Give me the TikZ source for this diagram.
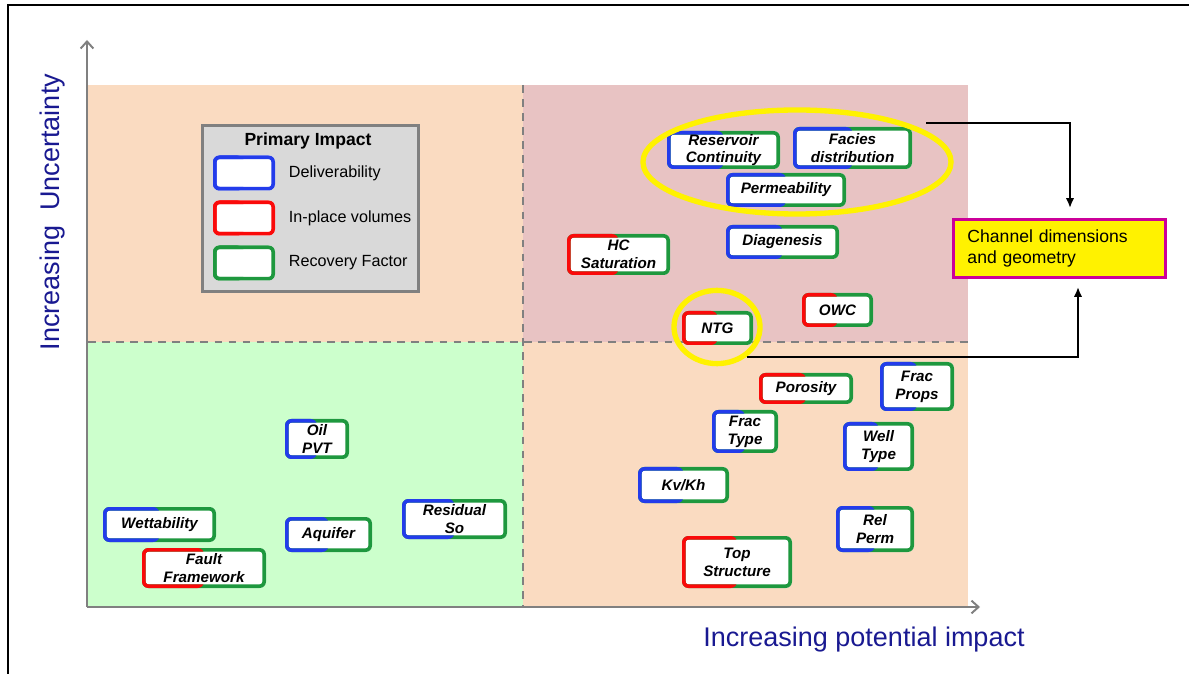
\documentclass[tikz,border=0pt]{standalone}
\usepackage{fontspec}
\setmainfont{Liberation Sans}
\usetikzlibrary{arrows.meta,shapes.geometric}
\definecolor{cblue}{RGB}{35,60,235}
\definecolor{cred}{RGB}{250,10,10}
\definecolor{cgreen}{RGB}{30,152,62}
\definecolor{cpeach}{RGB}{250,219,193}
\definecolor{cpink}{RGB}{232,195,195}
\definecolor{cmint}{RGB}{204,255,204}
\definecolor{clegend}{RGB}{217,217,217}
\definecolor{caxis}{RGB}{128,128,128}
\definecolor{cnavy}{RGB}{25,25,145}
\definecolor{cmagenta}{RGB}{204,0,153}
\tikzset{
  ibox/.style 2 args={rectangle, rounded corners=4.5pt, fill=white, inner sep=0pt, align=center,
    font=\fontsize{10.8}{12.6}\selectfont\bfseries\itshape,
    path picture={
      \draw[#2, line width=5.2pt, rounded corners=4.5pt] (path picture bounding box.south west) rectangle (path picture bounding box.north east);
      \clip (path picture bounding box.south west) rectangle (path picture bounding box.north);
      \draw[#1, line width=5.2pt, rounded corners=4.5pt] (path picture bounding box.south west) rectangle (path picture bounding box.north east);
    }},
  size/.style 2 args={minimum width=#1*0.025cm, minimum height=#2*0.025cm},
  divider/.style={caxis, line width=1.8pt, dash pattern=on 5.5pt off 4.5pt},
  axis/.style={caxis, line width=1.4pt, -{Straight Barb[length=5pt,width=9pt]}},
  ring/.style={draw=yellow, line width=3.8pt, ellipse, inner sep=0pt},
  link/.style={black, line width=1.8pt, -{Latex[length=7pt,width=6pt]}},
  axislabel/.style={cnavy, font=\fontsize{19.2}{22}\selectfont},
}
\begin{document}
\begin{tikzpicture}[x=0.025cm,y=-0.025cm]
\useasboundingbox (0,0) rectangle (1189,674);
%% frame
\draw[line width=1.5pt] (8,674) -- (8,5) -- (1189,5);
%% quadrants
\fill[cpeach] (88,85) rectangle (523,342);
\fill[cpink] (523,85) rectangle (968,342);
\fill[cmint] (88,342) rectangle (523,607);
\fill[cpeach] (523,342) rectangle (968,607);
\draw[divider] (523,85) -- (523,607);
\draw[divider] (88,342) -- (968,342);
%% axes
\draw[axis] (87,607) -- (87,40);
\draw[axis] (87,607) -- (980,607);
\node[axislabel, rotate=90] (ylabel) at (53,212) {Increasing\ \ Uncertainty};
\node[axislabel] (xlabel) at (864,640) {Increasing potential impact};
%% legend
\node[fill=clegend, draw=caxis, line width=2pt, size={216}{166}] (legend) at (310.5,208.5) {};
\node[font=\fontsize{12.5}{14}\selectfont\bfseries] (legendtitle) at (308,141) {Primary Impact};
\foreach \c/\t/\y in {cblue/Deliverability/173, cred/In-place volumes/218, cgreen/Recovery Factor/263} {
    \node[ibox={\c}{\c}, size={62}{35}] (sw\c) at (244,\y) {};
    \node[anchor=west, font=\fontsize{11.5}{13}\selectfont] (lab\c) at (284,\y) {\t};
}
%% factors
\node[ibox={cblue}{cgreen}, size={113}{38}] (rescont) at (723.5,150) {Reservoir\\Continuity};
\node[ibox={cblue}{cgreen}, size={119}{42}] (facies) at (852.5,148) {Facies\\distribution};
\node[ibox={cblue}{cgreen}, size={120}{34}] (perm) at (786,190) {Permeability};
\node[ibox={cblue}{cgreen}, size={113}{34}] (diag) at (782.5,242) {Diagenesis};
\node[ibox={cred}{cgreen}, size={103}{41}] (hcsat) at (618.5,254.5) {HC\\Saturation};
\node[ibox={cred}{cgreen}, size={71}{34}] (ntg) at (717.5,328) {NTG};
\node[ibox={cred}{cgreen}, size={71}{34}] (owc) at (837.5,310) {OWC};
\node[ibox={cred}{cgreen}, size={94}{31}] (poros) at (806,388.5) {Porosity};
\node[ibox={cblue}{cgreen}, size={74}{49}] (fracprops) at (917,386.5) {Frac\\Props};
\node[ibox={cblue}{cgreen}, size={66}{43}] (fractype) at (745,431.5) {Frac\\Type};
\node[ibox={cblue}{cgreen}, size={71}{49}] (welltype) at (878.5,446.5) {Well\\Type};
\node[ibox={cblue}{cgreen}, size={91}{36}] (kvkh) at (683.5,485) {Kv/Kh};
\node[ibox={cblue}{cgreen}, size={78}{46}] (relperm) at (875,529) {Rel\\Perm};
\node[ibox={cred}{cgreen}, size={110}{52}] (topstruct) at (737,562) {Top\\Structure};
\node[ibox={cblue}{cgreen}, size={64}{40}] (oilpvt) at (317,439) {Oil\\PVT};
\node[ibox={cblue}{cgreen}, size={113}{35}] (wett) at (159.5,524.5) {Wettability};
\node[ibox={cred}{cgreen}, size={124}{40}] (fault) at (204,568) {Fault\\Framework};
\node[ibox={cblue}{cgreen}, size={87}{35}] (aquifer) at (328.5,534.5) {Aquifer};
\node[ibox={cblue}{cgreen}, size={105}{40}] (resso) at (454.5,519) {Residual\\So};
%% highlights
\node[ring, minimum width=7.7cm, minimum height=2.6cm] (bigring) at (797,162) {};
\node[ring, minimum width=2.15cm, minimum height=1.83cm] (ntgring) at (717,327) {};
%% channel note
\node[fill=yellow, draw=cmagenta, line width=2.1pt, anchor=north west, minimum width=5.3cm, minimum height=1.45cm,
      inner xsep=0.3cm, text width=4.6cm, align=left, font=\fontsize{12.5}{15}\selectfont] (chan) at (952,218)
      {Channel dimensions\\and geometry};
\coordinate (ringout) at (926,123);
\coordinate (chantop) at (1070,208);
\coordinate (chanbot) at (1078,287);
\draw[link] (ringout) -| (chantop);
\draw[link] (ntgring.-45) -| (chanbot);
\end{tikzpicture}
\end{document}
